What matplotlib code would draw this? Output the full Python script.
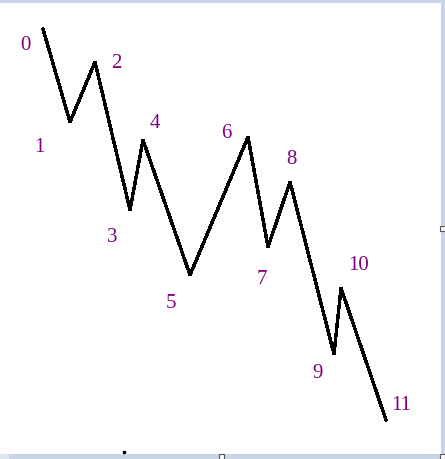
import matplotlib.pyplot as plt
import matplotlib.patches as mpatches

# zigzag turning points (picture coordinates, y grows downward)
wave_x = [43, 70, 95, 130, 143, 190, 248, 268, 290, 334, 341, 386]
wave_y = [29, 122, 62, 210, 140, 275, 137, 247, 182, 354, 288, 420]

# labels and where they sit
labels = ['0', '1', '2', '3', '4', '5', '6', '7', '8', '9', '10', '11']
label_x = [25, 39, 116, 112, 155, 171, 226, 262, 291, 318, 359, 401]
label_y = [45, 148, 63, 238, 124, 304, 134, 279, 159, 374, 265, 406]

W, H = 445, 459
fig = plt.figure(figsize=(W / 100, H / 100), dpi=100)
ax = fig.add_axes([0, 0, 1, 1])
ax.set_xlim(0, W)
ax.set_ylim(H, 0)
ax.axis('off')

# light window frame round the drawing
frame = '#c9d5e6'
ax.add_patch(mpatches.Rectangle((0, 0), W, 3, color=frame, lw=0))
ax.add_patch(mpatches.Rectangle((W - 4, 0), 4, H, color=frame, lw=0))
ax.add_patch(mpatches.Rectangle((0, H - 5), W, 5, color=frame, lw=0))
ax.add_patch(mpatches.Rectangle((0, H - 5), 9, 5, color='#dfe6f0', lw=0))
for hx, hy in [(221, H - 3), (W - 3, 228), (W - 3, H - 3)]:
    ax.add_patch(mpatches.Rectangle((hx - 2.5, hy - 2.5), 5, 5, facecolor='white',
                                    edgecolor='#555555', lw=0.8))

ax.plot(wave_x, wave_y, color='black', lw=1.7, solid_joinstyle='miter', antialiased=False)
ax.plot([124], [452], marker='s', ms=2, color='black')

for t, x, y in zip(labels, label_x, label_y):
    ax.text(x, y, t, color='#800080', fontsize=15, family='Liberation Serif',
            ha='center', va='center')

fig.savefig('out.png', dpi=100)
